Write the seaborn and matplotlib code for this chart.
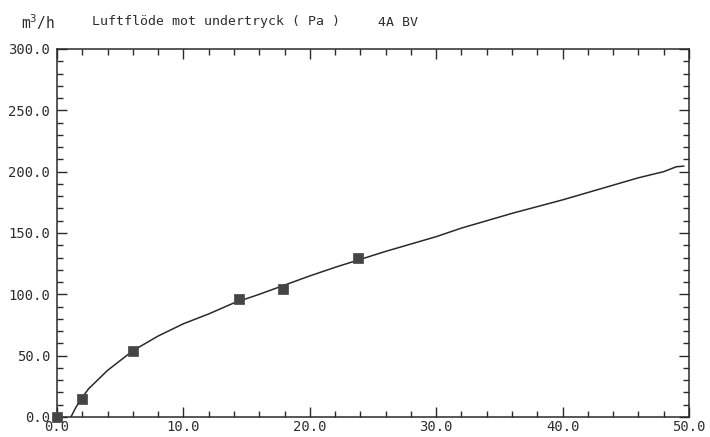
import matplotlib
matplotlib.use("Agg")
import matplotlib.pyplot as plt
import seaborn as sns
import pandas as pd
from matplotlib.ticker import MultipleLocator, FormatStrFormatter

# Measured points (pressure Pa, flow m3/h)
meas_pa = [0.0, 1.95, 6.0, 14.4, 17.9, 23.85]
meas_flow = [0.0, 15.0, 54.0, 96.0, 104.0, 130.0]

# Fitted curve
curve_pa = [1.1, 1.5, 2.0, 2.5, 3.0, 4.0, 5.0, 6.0, 7.0, 8.0, 9.0, 10.0, 12.0,
            14.0, 16.0, 18.0, 20.0, 22.0, 24.0, 26.0, 28.0, 30.0, 32.0, 34.0,
            36.0, 38.0, 40.0, 42.0, 44.0, 46.0, 48.0, 49.0, 49.6]
curve_flow = [0.0, 8.0, 16.0, 23.0, 28.0, 38.0, 46.0, 54.0, 60.0, 66.0, 71.0,
              76.0, 84.0, 93.0, 100.0, 107.5, 115.0, 122.0, 128.5, 135.0, 141.0,
              147.0, 154.0, 160.0, 166.0, 171.5, 177.0, 183.0, 189.0, 195.0,
              200.0, 204.0, 204.5]

title_unit = "m$^3$/h"
title_main = "Luftflöde mot undertryck ( Pa )"
title_tag = "4A BV"

sns.set_style("white")
plt.rcParams['font.family'] = ['DejaVu Sans Mono']

df_curve = pd.DataFrame({"pa": curve_pa, "flow": curve_flow})
df_meas = pd.DataFrame({"pa": meas_pa, "flow": meas_flow})

fig = plt.figure(figsize=(7.1, 4.37), dpi=100)
ax = fig.add_axes([0.0803, 0.0458, 0.8901, 0.8421])

sns.lineplot(data=df_curve, x="pa", y="flow", ax=ax, color="#2a2a2a",
             linewidth=1.1, sort=False, estimator=None)
sns.scatterplot(data=df_meas, x="pa", y="flow", ax=ax, marker="s", s=48,
                color="#454545", edgecolor="#454545", linewidth=0.5,
                clip_on=False, zorder=5)

ax.set_xlim(0, 50)
ax.set_ylim(0, 300)
ax.xaxis.set_major_locator(MultipleLocator(10))
ax.xaxis.set_minor_locator(MultipleLocator(2))
ax.yaxis.set_major_locator(MultipleLocator(50))
ax.yaxis.set_minor_locator(MultipleLocator(10))
ax.xaxis.set_major_formatter(FormatStrFormatter("%.1f"))
ax.yaxis.set_major_formatter(FormatStrFormatter("%.1f"))
ax.set_xlabel("")
ax.set_ylabel("")

ax.tick_params(which="both", direction="in", top=True, right=True,
               bottom=True, left=True, colors="#2a2a2a",
               labelsize=10, labelcolor="#2e2e2e")
ax.tick_params(which="major", length=7, width=1.0)
ax.tick_params(which="minor", length=4, width=1.0)
ax.tick_params(axis="x", which="major", pad=2)
ax.tick_params(axis="y", which="major", pad=5)
for sp in ax.spines.values():
    sp.set_visible(True)
    sp.set_color("#2a2a2a")
    sp.set_linewidth(1.1)

fig.text(21 / 710, 1 - 22 / 437, title_unit, fontsize=10.5, color="#2e2e2e",
         va="center", ha="left")
fig.text(92 / 710, 1 - 22 / 437, title_main, fontsize=9.5, color="#2e2e2e",
         va="center", ha="left")
fig.text(378 / 710, 1 - 22 / 437, title_tag, fontsize=9.5, color="#2e2e2e",
         va="center", ha="left")

fig.savefig("out.png", dpi=100, facecolor="white")
